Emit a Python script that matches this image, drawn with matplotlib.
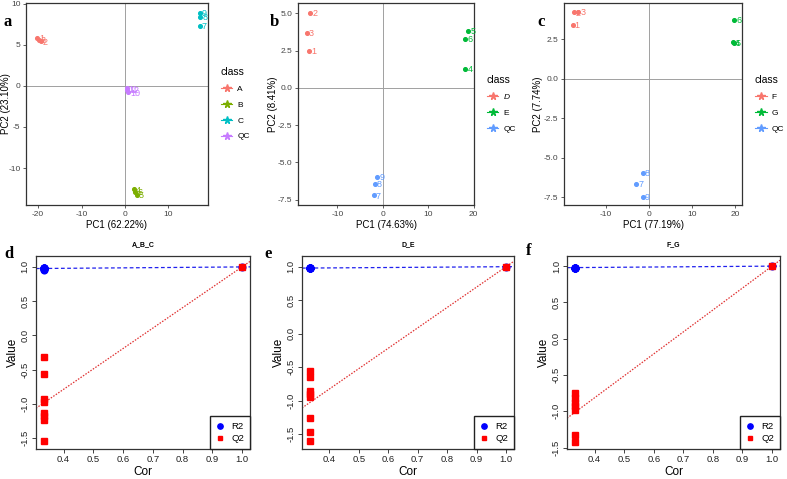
import numpy as np
import matplotlib
matplotlib.use('Agg')
import matplotlib.pyplot as plt
from matplotlib.lines import Line2D

plt.rcParams['font.family'] = ['Liberation Sans', 'DejaVu Sans']
plt.rcParams['axes.unicode_minus'] = False

# --- PCA score plots (a, b, c) ---
a_cls = ['A', 'B', 'C', 'QC']
a_col = ['#F8766D', '#7CAE00', '#00BFC4', '#C77CFF']
a_x = [[-20.3, -19.8, -19.4], [2.0, 2.4, 2.8], [17.3, 17.4, 17.2], [0.4, 0.5, 0.8]]
a_y = [[5.8, 5.6, 5.4], [-12.6, -12.9, -13.3], [8.9, 8.4, 7.3], [-0.3, -0.5, -0.8]]
a_lab = [['1', '3', '2'], ['4', '6', '5'], ['9', '8', '7'], ['11', '12', '10']]

b_cls = ['D', 'E', 'QC']
b_x = [[-16.0, -16.8, -16.3], [18.8, 18.2, 18.2], [-1.2, -1.8, -2.0]]
b_y = [[5.05, 3.7, 2.5], [3.8, 3.3, 1.3], [-5.95, -6.45, -7.2]]
b_lab = [['2', '3', '1'], ['5', '6', '4'], ['9', '8', '7']]

c_cls = ['F', 'G', 'QC']
c_x = [[-17.5, -16.5, -17.8], [19.8, 19.4, 19.7], [-1.5, -3.0, -1.5]]
c_y = [[4.2, 4.25, 3.4], [3.7, 2.3, 2.25], [-5.95, -6.65, -7.5]]
c_lab = [['2', '3', '1'], ['6', '4', '5'], ['8', '7', '9']]

hue3 = ['#F8766D', '#00BA38', '#619CFF']

# --- permutation plots (d, e, f) ---
perm_titles = ['A_B_C', 'D_E', 'F_G']
d_r2 = [0.96, 0.97, 0.98, 0.99, 0.98, 0.97, 0.99, 0.98, 1.0]
d_q2 = [-0.32, -0.56, -0.93, -0.98, -1.13, -1.18, -1.24, -1.55, 1.0]
e_r2 = [0.98, 0.98, 0.98, 0.98, 0.98, 0.98, 0.98, 0.98, 1.0]
e_q2 = [-0.55, -0.65, -0.85, -0.90, -0.95, -1.26, -1.46, -1.60, 1.0]
f_r2 = [0.98, 0.98, 0.98, 0.98, 0.98, 0.98, 0.98, 1.0]
f_q2 = [-0.75, -0.82, -0.88, -0.93, -0.98, -1.33, -1.42, 1.0]

fig = plt.figure(figsize=(7.87, 4.79), dpi=100)


def pca_panel(rect, xs, ys, labs, cls, cols, xlab, ylab, xlim, ylim, xt, yt, yfmt, ylx, italic_first=False):
    ax = fig.add_axes(rect)
    ax.axhline(0, color='#a0a0a0', lw=0.7, zorder=0)
    ax.axvline(0, color='#a0a0a0', lw=0.7, zorder=0)
    for x, y, lb, c in zip(xs, ys, labs, cols):
        ax.scatter(x, y, s=7, color=c, zorder=3)
        for xi, yi, t in zip(x, y, lb):
            ax.annotate(t, (xi, yi), xytext=(1.5, -0.5), textcoords='offset points',
                        ha='left', va='center', fontsize=6.5, color=c)
    ax.set_xlim(*xlim); ax.set_ylim(*ylim)
    ax.set_xticks(xt); ax.set_yticks(yt)
    ax.set_yticklabels([yfmt.format(v) for v in yt])
    for s in ax.spines.values():
        s.set_color('#333333'); s.set_linewidth(0.9)
    ax.tick_params(labelsize=6, colors='#444444', length=2.5, width=0.6, pad=1.5)
    ax.set_xlabel(xlab, fontsize=7, labelpad=2)
    ax.set_ylabel(ylab, fontsize=7)
    ax.yaxis.set_label_coords(ylx, 0.5)
    handles = [Line2D([0], [0], color=c, marker='*', markersize=5.5, lw=0.8) for c in cols]
    leg = ax.legend(handles, cls, title='class', loc='center left', bbox_to_anchor=(1.03, 0.5),
                    frameon=False, fontsize=6, title_fontsize=7.5, handlelength=1.4,
                    handletextpad=0.6, labelspacing=0.95, alignment='left')
    if italic_first:
        leg.get_texts()[0].set_fontstyle('italic')
    return ax


pca_panel([0.033, 0.572, 0.231, 0.422], a_x, a_y, a_lab, a_cls, a_col,
          'PC1 (62.22%)', 'PC2 (23.10%)', (-22.8, 19.1), (-14.5, 10.1),
          [-20, -10, 0, 10], [10, 5, 0, -5, -10], '{:g}', -0.085)
pca_panel([0.3787, 0.572, 0.2236, 0.422], b_x, b_y, b_lab, b_cls, hue3,
          'PC1 (74.63%)', 'PC2 (8.41%)', (-18.7, 20.1), (-7.85, 5.7),
          [-10, 0, 10, 20], [5.0, 2.5, 0.0, -2.5, -5.0, -7.5], '{:.1f}', -0.114, italic_first=True)
pca_panel([0.7167, 0.572, 0.2262, 0.422], c_x, c_y, c_lab, c_cls, hue3,
          'PC1 (77.19%)', 'PC2 (7.74%)', (-19.8, 21.6), (-8.0, 4.8),
          [-10, 0, 10, 20], [2.5, 0.0, -2.5, -5.0, -7.5], '{:.1f}', -0.118)


def perm_panel(rect, r2, q2, title, ylim):
    ax = fig.add_axes(rect)
    cor = np.array([1 / 3] * (len(r2) - 1) + [1.0])
    xlim = (0.307, 1.027)
    ax.set_xlim(*xlim); ax.set_ylim(*ylim)
    xx = np.array(xlim)
    kb = np.polyfit(cor, r2, 1); kq = np.polyfit(cor, q2, 1)
    ax.plot(xx, np.polyval(kb, xx), color='#2020ee', lw=0.9, ls=(0, (3, 2)), zorder=1)
    ax.plot(xx, np.polyval(kq, xx), color='#e03030', lw=0.9, ls=(0, (1.2, 1.2)), zorder=1)
    ax.plot(cor, r2, 'o', color='#0000ff', markersize=4.8, ls='none', zorder=2, label='R2')
    ax.plot(cor, q2, 's', color='#ff0000', markersize=4, ls='none', zorder=3, label='Q2')
    ax.set_xticks(np.arange(0.4, 1.01, 0.1))
    ax.set_xticklabels(['{:.1f}'.format(v) for v in np.arange(0.4, 1.01, 0.1)])
    yt = np.arange(-1.5, 1.01, 0.5)
    yt = yt[yt >= ylim[0]]
    ax.set_yticks(yt)
    ax.set_yticklabels(['{:.1f}'.format(v) for v in yt], rotation=90, va='center')
    for s in ax.spines.values():
        s.set_color('#333333'); s.set_linewidth(0.9)
    ax.tick_params(labelsize=6.8, colors='#222222', length=3, width=0.6, pad=1.5)
    ax.set_xlabel('Cor', fontsize=8.5, labelpad=1.5)
    ax.set_ylabel('Value', fontsize=8.5, labelpad=1)
    ax.set_title(title, fontsize=5, fontweight='bold', pad=7)
    ax.legend(loc='lower right', borderaxespad=0, fancybox=False, edgecolor='#222222',
              fontsize=6.8, handlelength=1.0, handletextpad=0.7, borderpad=0.6,
              labelspacing=0.35, framealpha=1, markerscale=0.8)
    return ax


perm_panel([0.0457, 0.0626, 0.272, 0.403], d_r2, d_q2, perm_titles[0], (-1.66, 1.16))
perm_panel([0.3837, 0.0626, 0.2694, 0.403], e_r2, e_q2, perm_titles[1], (-1.72, 1.16))
perm_panel([0.7205, 0.0626, 0.2706, 0.403], f_r2, f_q2, perm_titles[2], (-1.52, 1.14))

for t, x, y in [('a', 0.004, 0.955), ('b', 0.343, 0.955), ('c', 0.683, 0.955),
                ('d', 0.006, 0.47), ('e', 0.336, 0.47), ('f', 0.668, 0.475)]:
    fig.text(x, y, t, fontsize=12, fontweight='bold', family='Liberation Serif', va='center')

fig.savefig('out.png', dpi=100)
